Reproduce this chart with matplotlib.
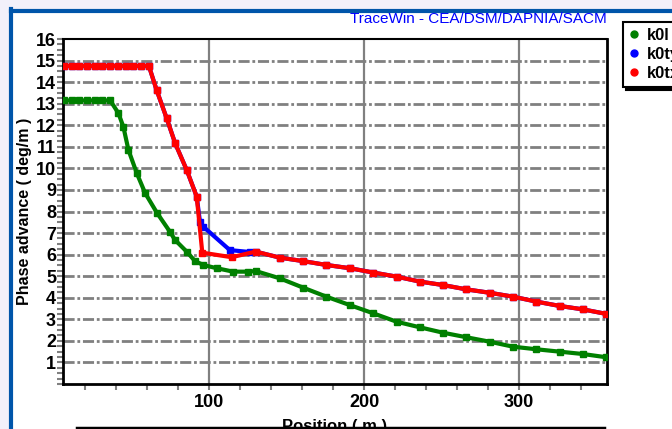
import matplotlib
matplotlib.use('Agg')
import matplotlib.pyplot as plt
from matplotlib.lines import Line2D
from matplotlib.patches import Rectangle
from matplotlib.ticker import MultipleLocator

plt.rcParams['font.family'] = ['Liberation Sans Narrow', 'Liberation Sans', 'DejaVu Sans']

# data
x_k0l = [6, 11, 16, 21, 26, 31, 36, 41.3, 44.5, 47.8, 53.2, 58.6, 66.1, 74.6, 77.9,
         85.4, 90.8, 96.1, 104.8, 115.5, 125, 130, 145.6, 160.6, 175.7, 190.8, 205.9,
         221, 236, 251, 266, 281.3, 296.3, 311.4, 326.4, 341.5, 356.6]
y_k0l = [13.15, 13.15, 13.15, 13.15, 13.15, 13.15, 13.15, 12.56, 11.93, 10.85, 9.77, 8.85,
         7.95, 7.06, 6.68, 6.14, 5.7, 5.52, 5.37, 5.21, 5.21, 5.24, 4.9, 4.47, 4.05, 3.66,
         3.28, 2.89, 2.63, 2.38, 2.17, 1.96, 1.73, 1.61, 1.5, 1.39, 1.24]

x_k0ty = [6, 11, 16, 21, 26, 31, 36, 41, 46, 51, 56, 61, 66, 72.5, 78, 85.4, 91.9,
          94, 96.1, 113.3, 126.3, 130, 145.6, 160.6, 175.7, 190.8, 205.9, 221, 236,
          251, 266, 281.3, 296.3, 311.4, 326.4, 341.5, 356.6]
y_k0ty = [14.75, 14.75, 14.75, 14.75, 14.75, 14.75, 14.75, 14.75, 14.75, 14.75, 14.75,
          14.75, 13.63, 12.32, 11.16, 9.93, 8.69, 7.53, 7.3, 6.21, 6.12, 6.14, 5.86, 5.7,
          5.52, 5.37, 5.17, 4.98, 4.75, 4.59, 4.39, 4.23, 4.05, 3.82, 3.62, 3.46, 3.25]

x_k0tx = [6, 11, 16, 21, 26, 31, 36, 41, 46, 51, 56, 61, 66, 72.5, 78, 85.4, 91.9,
          95.5, 114.5, 130, 145.6, 160.6, 175.7, 190.8, 205.9, 221, 236, 251, 266,
          281.3, 296.3, 311.4, 326.4, 341.5, 356.6]
y_k0tx = [14.75, 14.75, 14.75, 14.75, 14.75, 14.75, 14.75, 14.75, 14.75, 14.75, 14.75,
          14.75, 13.63, 12.32, 11.16, 9.93, 8.69, 6.09, 5.88, 6.14, 5.86, 5.7, 5.52,
          5.37, 5.17, 4.98, 4.75, 4.59, 4.39, 4.23, 4.05, 3.82, 3.62, 3.46, 3.25]

fig = plt.figure(figsize=(6.72, 4.29), dpi=100)
fig.patch.set_facecolor('#f2f0fa')

# white panel with blue border on top / left
fig.add_artist(Rectangle((13 / 672, 0), 1, 417 / 429, transform=fig.transFigure,
                         facecolor='white', edgecolor='none', zorder=-5))
fig.add_artist(Line2D([11 / 672, 1], [418.5 / 429, 418.5 / 429], color='#0055aa', lw=3,
                      transform=fig.transFigure, zorder=-4))
fig.add_artist(Line2D([11 / 672, 11 / 672], [0, 420 / 429], color='#0055aa', lw=3,
                      transform=fig.transFigure, zorder=-4))
fig.add_artist(Line2D([77 / 672, 604 / 672], [1.5 / 429, 1.5 / 429], color='black', lw=2.5,
                      transform=fig.transFigure, zorder=10))

ax = fig.add_axes([63 / 672, 45 / 429, 544 / 672, 345 / 429])
ax.set_facecolor('white')

ax.plot(x_k0l, y_k0l, color='#008000', lw=3, marker='s', ms=4.5, zorder=3)
ax.plot(x_k0ty, y_k0ty, color='#0000ff', lw=3, marker='s', ms=4.5, zorder=3)
ax.plot(x_k0tx, y_k0tx, color='#ff0000', lw=3, marker='s', ms=4.5, zorder=4)

ax.set_xlim(5.5, 357)
ax.set_ylim(0, 16)

for v in range(1, 16):
    ax.axhline(v, color='#808080', lw=2, dashes=(4, 1, 1, 1), zorder=1)
for v in [100, 200, 300]:
    ax.axvline(v, color='#808080', lw=1.6, zorder=1)

ax.xaxis.set_major_locator(MultipleLocator(100))
ax.xaxis.set_minor_locator(MultipleLocator(20))
ax.yaxis.set_major_locator(MultipleLocator(1))
ax.yaxis.set_minor_locator(MultipleLocator(0.25))
ax.tick_params(axis='both', which='both', color='#808080', width=1.5, direction='out')
ax.tick_params(axis='x', which='major', length=4, pad=3)
ax.tick_params(axis='x', which='minor', length=4)
ax.tick_params(axis='y', which='major', length=4, pad=1)
ax.tick_params(axis='y', which='minor', length=4)
ax.set_yticks(range(1, 17))
ax.set_yticklabels([str(v) for v in range(1, 17)])
for lab in ax.get_xticklabels() + ax.get_yticklabels():
    lab.set_fontsize(13)
    lab.set_fontweight('bold')

for side in ['left', 'bottom', 'right']:
    ax.spines[side].set_color('black')
    ax.spines[side].set_linewidth(2)
ax.spines['top'].set_color('black')
ax.spines['top'].set_linewidth(1.5)
ax.spines['top'].set_linestyle((0, (1, 1)))

ax.set_ylabel('Phase advance ( deg/m )', fontsize=11.5, fontweight='bold', labelpad=3)
ax.set_xlabel('Position ( m )', fontsize=12, fontweight='bold', labelpad=6)

fig.text(607 / 672, 410 / 429, 'TraceWin - CEA/DSM/DAPNIA/SACM', color='#0000ff',
         fontsize=11, ha='right', va='center')

handles = [Line2D([], [], color=c, marker='o', ls='none', ms=5)
           for c in ['#008000', '#0000ff', '#ff0000']]
leg = fig.legend(handles, ['k0l', 'k0ty', 'k0tx'], loc='upper left',
                 bbox_to_anchor=(623 / 672, 407 / 429), borderaxespad=0, frameon=True,
                 fancybox=False, shadow={'color': 'black', 'alpha': 1}, handlelength=0.6,
                 handletextpad=0.5, borderpad=0.35, labelspacing=0.25,
                 prop={'weight': 'bold', 'size': 12})
leg.get_frame().set_edgecolor('black')
leg.get_frame().set_linewidth(1.5)

fig.savefig('out.png', dpi=100, facecolor=fig.get_facecolor())
